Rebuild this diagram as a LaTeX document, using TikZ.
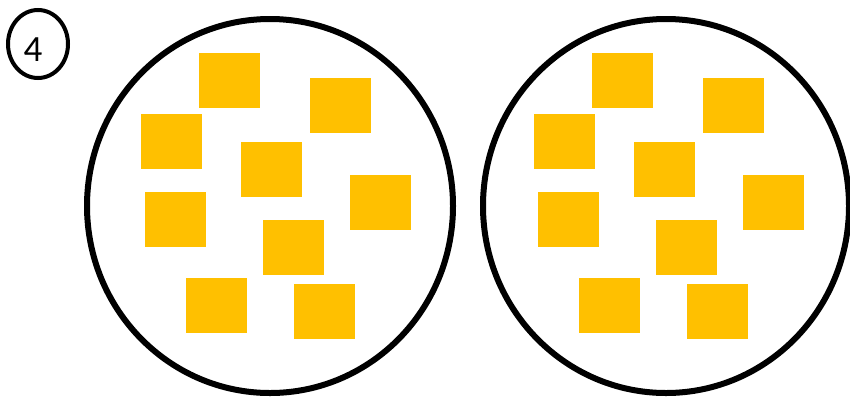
\documentclass[tikz,border=0pt]{standalone}
\usepackage{fontspec}
\setmainfont{Carlito}
\usetikzlibrary{shapes.geometric}
\definecolor{tilegold}{HTML}{FFC000}

\begin{document}
\begin{tikzpicture}[x=1pt, y=-1pt,
  bag/.style={draw, ellipse, line width=6pt, minimum width=366pt,
              minimum height=374pt, inner sep=0pt},
  tile/.style={fill=tilegold, minimum width=61pt, minimum height=55pt,
               inner sep=0pt},
  badge/.style={draw, ellipse, line width=4pt, minimum width=60pt,
                minimum height=68pt, inner sep=0pt}]
\useasboundingbox (0,0) rectangle (850,397);
\node[badge] (badge) at (38,44) {};
\node[font=\fontsize{37}{40}\selectfont, inner sep=0pt] (count) at (33,50) {4};
\foreach \side/\cx/\dx in {L/270/0, R/666/393}{
  \node[bag] (bag\side) at (\cx,206) {};
  \foreach \tx/\ty [count=\i] in {229/80, 340/105, 171/141, 271/169, 380/202,
                                  175/219, 293/247, 216/305, 324/311}
    \node[tile] (tile\side\i) at (\tx+\dx,\ty) {};
}
\end{tikzpicture}
\end{document}
